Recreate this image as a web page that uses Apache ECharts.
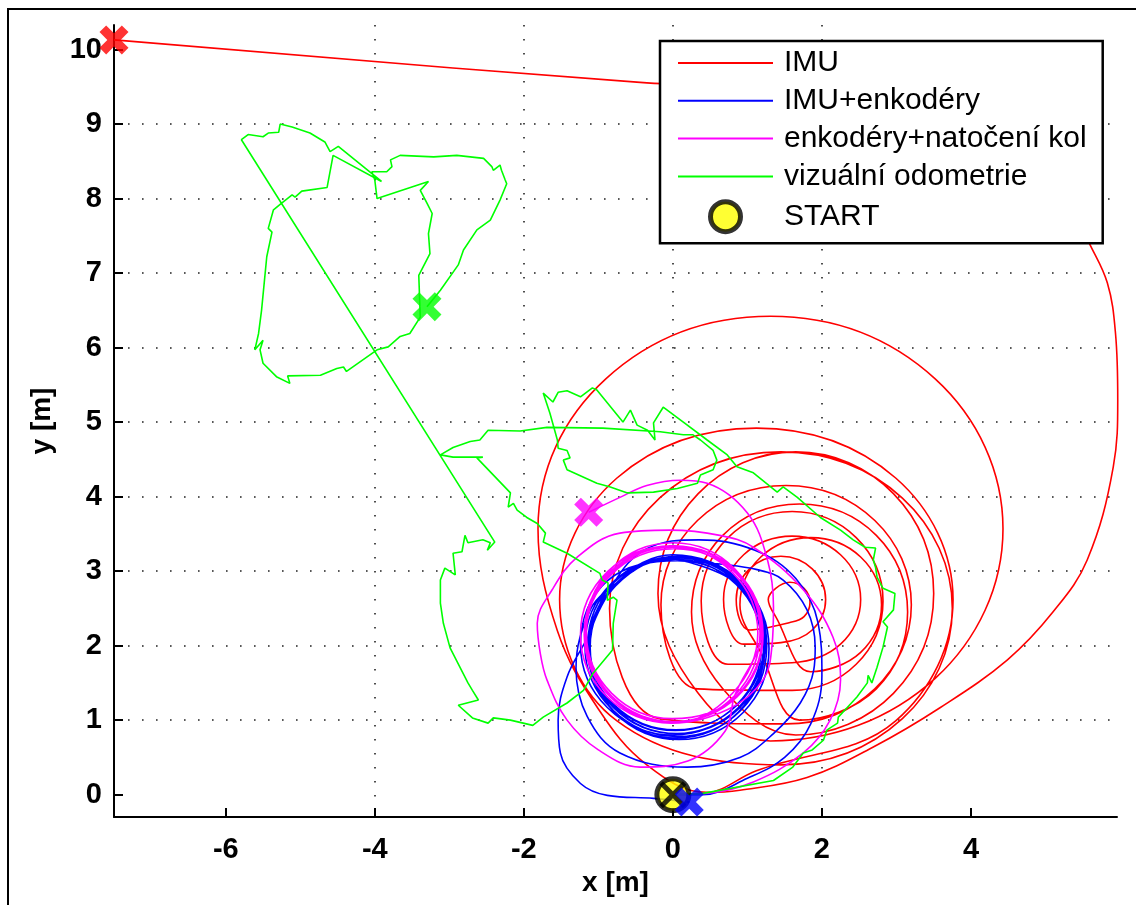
<!DOCTYPE html>
<html>
<head>
<meta charset="utf-8">
<script src="https://cdn.jsdelivr.net/npm/echarts@6/dist/echarts.min.js"></script>
<style>
  html, body { margin: 0; padding: 0; background: #fff; }
  #chart { width: 1136px; height: 905px; }
</style>
</head>
<body>
<div id="chart"></div>
<script>
// trajektorie [x, y] v metrech
const imuPath = [
  [0,0],[0.45,0.02],
  [1.12,0.32],[2.99,0.99],[3.76,2.62],[2.99,4.25],[1.12,4.92],[-0.75,4.25],[-1.52,2.62],[-0.75,0.99],
  [1.45,0.4],[3.08,1.02],[3.75,2.5],[3.08,3.98],[1.45,4.6],[-0.18,3.98],[-0.85,2.5],[-0.18,1.02],
  [1.52,0.95],[2.71,1.42],[3.2,2.55],[2.71,3.68],[1.52,4.15],[0.33,3.68],[-0.16,2.55],[0.33,1.42],
  [1.6,1.4],[2.46,1.75],[2.82,2.6],[2.46,3.45],[1.6,3.8],[0.74,3.45],[0.38,2.6],[0.74,1.75],
  [1.6,1.77],[2.25,2.02],[2.52,2.62],[2.25,3.22],[1.6,3.47],[0.95,3.22],[0.68,2.62],[0.95,2.02],
  [1.45,2.04],[1.87,2.21],[2.05,2.62],[1.87,3.03],[1.45,3.2],[1.03,3.03],[0.85,2.62],[1.03,2.21],
  [1.57,2.31],[1.76,2.39],[1.84,2.58],[1.76,2.77],[1.57,2.85],[1.38,2.77],[1.28,2.62],[1.38,2.39],
  [1.85,1.65],[2.52,1.91],[2.8,2.55],[2.52,3.19],[1.85,3.45],[1.18,3.19],[0.9,2.55],[1.18,1.91],
  [1.7,1.0],[2.73,1.42],[3.15,2.45],[2.73,3.48],[1.7,3.9],[0.67,3.48],[0.25,2.45],[0.67,1.42],
  [1.65,0.8],[2.96,1.36],[3.5,2.7],[2.96,4.04],[1.65,4.6],[0.34,4.04],[-0.2,2.7],[0.34,1.36],
  [1.31,0.72],[3.52,1.56],[4.43,3.57],[3.52,5.58],[1.31,6.42],[-0.9,5.58],[-1.81,3.57],[-1.55,2.2],[-1.0,1.15],[-0.35,0.4],
  [0.45,0.03],[0.9,0.06],[1.8,0.23],[2.69,0.64],[3.59,1.17],[4.49,1.81],[5.1,2.45],[5.56,3.15],[5.91,4.4],
  [5.97,5.3],[5.94,6.19],[5.83,6.87],[5.57,7.44],[5.2,8.25],[4.4,8.99],[3.05,9.39],[1.17,9.5],[-0.44,9.56],[-7.5,10.13]
];
const imuEncPath = [
  [0,0],[0.4,0.0],[1.0,0.22],[1.5,0.5],[1.85,0.95],[2.0,1.6],[1.95,2.3],[1.65,2.9],[1.1,3.28],[0.35,3.42],[-0.35,3.3],
  [-0.80,2.83],[-1.15,2.00],[-0.80,1.17],[0.04,0.82],[0.88,1.17],[1.23,2.00],[0.88,2.83],[0.04,3.18],
  [-0.77,2.80],[-1.11,1.98],[-0.77,1.16],[0.06,0.82],[0.89,1.16],[1.23,1.98],[0.89,2.80],[0.06,3.14],
  [-0.88,2.87],[-1.24,2.02],[-0.88,1.17],[0.00,0.80],[0.88,1.17],[1.24,2.02],[0.88,2.87],[0.00,3.22],
  [-0.78,2.81],[-1.13,1.96],[-0.78,1.11],[0.05,0.76],[0.88,1.11],[1.23,1.96],[0.88,2.81],[0.05,3.16],
  [0.6,3.1],[1.13,3.02],[1.48,2.88],[1.80,2.48],[1.91,1.98],[1.89,1.67],[1.71,1.23],[1.35,0.82],[0.9,0.5],
  [0.19,0.37],[-0.71,0.56],[-1.15,1.05],[-1.3,1.7],[-1.1,2.5],
  [-0.79,2.82],[-1.13,2.01],[-0.79,1.20],[0.03,0.86],[0.85,1.20],[1.19,2.01],[0.85,2.82],[0.03,3.16],
  [-0.78,2.82],[-1.13,1.96],[-0.78,1.10],[0.08,0.74],[0.94,1.10],[1.29,1.96],[0.94,2.82],[0.08,3.18],
  [-0.79,2.85],[-1.14,2.03],[-0.79,1.21],[0.04,0.87],[0.87,1.21],[1.22,2.03],[0.87,2.85],[0.04,3.19],
  [-0.82,2.84],[-1.18,2.0],[-0.82,1.15],[0.06,0.78],[0.91,1.13],[1.26,2.0],[0.91,2.86],[0.06,3.2],
  [-0.79,2.85],[-1.15,2.1],[-1.42,1.58],[-1.54,1.0],[-1.51,0.56],[-1.24,0.15],[-0.88,-0.01],[-0.26,-0.05],[0.22,-0.1]
];
const wheelPath = [
  [0,0],[0.46,0.02],[1.08,0.17],[1.75,0.56],[2.11,1.0],[2.25,1.54],[2.15,2.11],[1.75,2.75],[1.08,3.32],[0.63,3.48],
  [-0.04,3.55],[-0.71,3.51],[-1.28,3.19],[-1.62,2.75],[-1.82,2.3],[-1.78,1.9],[-1.69,1.54],[-1.42,1.0],[-1.0,0.6],
  [-0.44,0.37],[0.2,0.45],[0.7,0.85],
  [0.83,1.33],[1.18,2.16],[0.83,2.99],[0.00,3.34],[-0.83,2.99],[-1.18,2.16],[-0.83,1.33],[0.00,0.98],
  [0.86,1.31],[1.21,2.15],[0.86,2.99],[0.01,3.34],[-0.84,2.99],[-1.19,2.15],[-0.84,1.31],[0.01,0.96],
  [0.80,1.36],[1.14,2.17],[0.80,2.98],[-0.01,3.32],[-0.82,2.98],[-1.16,2.17],[-0.82,1.36],[-0.01,1.02],
  [0.86,1.32],[1.21,2.14],[0.86,2.96],[0.02,3.30],[-0.82,2.96],[-1.17,2.14],[-0.82,1.32],[0.02,0.98],
  [0.83,1.33],[1.17,2.18],[0.83,3.03],[0.00,3.38],[-0.83,3.03],[-1.17,2.18],[-0.83,1.33],[0.00,0.98],
  [0.84,1.31],[1.20,2.15],[0.84,2.99],[-0.02,3.34],[-0.88,2.99],[-1.24,2.15],[-0.88,1.31],[-0.02,0.96],
  [0.75,1.15],[1.21,1.54],[1.33,2.0],[1.35,2.52],[1.27,3.15],[1.0,3.78],[0.46,4.18],[0.1,4.22],[-0.35,4.15],
  [-0.71,3.99],[-1.13,3.79]
];
const visualPath = [
  [0,0],[0.37,0.01],[1.35,0.19],[1.61,0.37],[1.75,0.56],[1.87,0.60],[2.02,0.73],[2.07,0.87],[2.21,0.96],[2.22,1.04],
  [2.34,1.17],[2.47,1.31],[2.61,1.50],[2.62,1.60],[2.67,1.50],[2.74,1.71],[2.82,1.98],[2.88,2.25],[2.82,2.32],[2.96,2.48],
  [2.98,2.70],[2.82,2.77],[2.74,2.92],[2.72,3.05],[2.69,3.15],[2.72,3.31],[2.58,3.32],[2.42,3.42],[2.25,3.55],[1.98,3.72],
  [1.67,3.99],[1.48,4.13],[1.40,4.06],[1.08,4.32],[0.86,4.40],[0.73,4.56],[0.46,4.76],[0.14,5.00],[-0.13,5.20],[-0.26,4.99],
  [-0.24,4.76],[-0.34,4.89],[-0.48,4.96],[-0.57,5.16],[-0.67,5.00],[-1.02,5.43],[-1.08,5.46],[-1.24,5.34],[-1.42,5.42],[-1.54,5.40],
  [-1.61,5.27],[-1.74,5.39],[-1.65,5.12],[-1.55,4.76],[-1.54,4.65],[-1.42,4.62],[-1.38,4.52],[-1.47,4.49],[-1.42,4.36],[-1.02,4.18],
  [-0.84,4.13],[-0.61,4.05],[-0.26,4.06],[0.06,4.11],[0.33,4.18],[0.37,4.29],[0.54,4.36],[0.59,4.49],[0.54,4.62],[0.37,4.76],
  [0.27,4.83],[0.14,4.83],[-0.17,4.87],[-0.94,4.92],[-1.69,4.93],[-2.05,4.88],[-2.48,4.89],[-2.59,4.76],[-2.72,4.74],[-2.95,4.66],
  [-3.12,4.56],[-2.95,4.53],[-2.55,4.53],[-2.63,4.52],[-2.18,4.05],[-2.21,3.86],[-2.14,3.91],[-2.09,3.82],[-1.96,3.72],[-1.82,3.64],
  [-1.71,3.51],[-1.74,3.39],[-1.42,3.24],[-0.98,2.97],[-0.95,2.88],[-0.87,2.84],[-0.88,2.61],[-0.80,2.65],[-0.75,2.61],[-0.80,2.30],
  [-0.81,1.94],[-1.07,1.63],[-1.20,1.40],[-1.42,1.23],[-1.74,1.04],[-1.88,0.93],[-2.18,1.00],[-2.41,1.03],[-2.48,0.96],[-2.69,1.03],
  [-2.88,1.20],[-2.61,1.27],[-2.69,1.40],[-2.75,1.50],[-2.99,1.97],[-3.08,2.30],[-3.12,2.57],[-3.12,2.88],[-3.06,3.04],[-2.92,2.95],
  [-2.95,3.24],[-2.83,3.26],[-2.79,3.48],[-2.75,3.38],[-2.55,3.42],[-2.45,3.38],[-2.49,3.28],[-2.39,3.39],
  [-5.79,8.79],[-5.70,8.86],[-5.50,8.83],[-5.43,8.88],[-5.29,8.89],[-5.27,9.00],[-5.11,8.96],[-4.87,8.88],[-4.67,8.76],[-4.60,8.63],
  [-4.49,8.70],[-3.91,8.23],[-4.56,8.58],[-4.64,8.15],[-4.98,8.10],[-5.07,8.02],[-5.11,8.05],[-5.25,7.94],[-5.36,7.85],[-5.43,7.60],
  [-5.38,7.55],[-5.45,7.22],[-5.52,6.50],[-5.56,6.19],[-5.61,5.97],[-5.50,6.10],[-5.54,5.97],[-5.50,5.79],[-5.32,5.61],[-5.14,5.52],
  [-5.17,5.62],[-4.73,5.63],[-4.51,5.72],[-4.42,5.74],[-4.38,5.68],[-3.97,5.97],[-3.82,6.01],[-3.66,6.15],[-3.53,6.19],[-3.39,6.41],
  [-3.41,6.97],[-3.26,7.26],[-3.28,7.53],[-3.23,7.80],[-3.30,7.94],[-3.39,8.11],[-3.28,8.23],[-3.97,8.00],[-4.00,8.25],[-4.04,8.36],
  [-3.84,8.36],[-3.77,8.43],[-3.79,8.52],[-3.66,8.58],[-3.21,8.56],[-2.90,8.58],[-2.54,8.54],[-2.43,8.43],[-2.41,8.38],[-2.32,8.45],
  [-2.30,8.38],[-2.25,8.25],[-2.23,8.20],[-2.32,7.98],[-2.45,7.71],[-2.63,7.58],[-2.81,7.31],[-2.88,7.11],[-3.12,6.77],[-3.30,6.55]
];
// start a koncove body
const startPoint = [[0, 0]];
const imuEnd = [[-7.5, 10.13]];
const imuEncEnd = [[0.22, -0.1]];
const wheelEnd = [[-1.13, 3.79]];
const visualEnd = [[-3.3, 6.55]];

const xTicks = [-6, -4, -2, 0, 2, 4];
const yTicks = [0, 1, 2, 3, 4, 5, 6, 7, 8, 9, 10];

const names = ['IMU', 'IMU+enkodéry', 'enkodéry+natočení kol', 'vizuální odometrie', 'START'];
const colors = ['#ff0000', '#0000ff', '#ff00ff', '#00ff00'];

const FONT = '"Liberation Sans", Arial, Helvetica, sans-serif';
const crossPath = 'path://M0,2.3L2.3,0L5,2.7L7.7,0L10,2.3L7.3,5L10,7.7L7.7,10L5,7.3L2.3,10L0,7.7L2.7,5Z';
const thinCross = 'path://M0,1.3L1.3,0L5,3.7L8.7,0L10,1.3L6.3,5L10,8.7L8.7,10L5,6.3L1.3,10L0,8.7L3.7,5Z';

const gridLine = { color: '#222', width: 1.6, type: [1.6, 12.4] };

const lineSeries = (name, data, color, smooth) => ({
  name: name,
  type: 'line',
  data: data,
  symbol: 'none',
  smooth: smooth,
  lineStyle: { color: color, width: 1.6 },
  itemStyle: { color: color },
  z: 2
});

const endSeries = (data, color) => ({
  type: 'scatter',
  data: data,
  symbol: crossPath,
  symbolSize: 29,
  itemStyle: { color: color },
  clip: false,
  z: 5
});

// legenda: u car schovat kolecko
const lineItem = (name) => ({ name: name, itemStyle: { opacity: 0 } });

const chart = echarts.init(document.getElementById('chart'));
chart.setOption({
  animation: false,
  backgroundColor: '#fff',
  grid: { left: 114, right: 19, top: 25, bottom: 88, containLabel: false },
  graphic: [{
    type: 'rect', silent: true, z: 100,
    shape: { x: 8, y: 9, width: 1200, height: 1000 },
    style: { fill: 'none', stroke: '#000', lineWidth: 2 }
  }],
  legend: {
    orient: 'vertical',
    left: 660, top: 41,
    backgroundColor: '#fff', borderColor: '#000', borderWidth: 2.5, borderRadius: 0,
    padding: [7, 16, 9, 17],
    itemWidth: 95, itemHeight: 30, itemGap: 7.8,
    lineStyle: { width: 2 },
    textStyle: { fontSize: 30, color: '#000', fontFamily: FONT, padding: [0, 0, 0, 6] },
    data: [
      lineItem(names[0]), lineItem(names[1]), lineItem(names[2]), lineItem(names[3]),
      { name: 'START', icon: 'circle', itemStyle: { color: '#ffff00', borderColor: '#000', borderWidth: 5 } }
    ]
  },
  xAxis: {
    type: 'value', min: -7.5, max: 5.96, minInterval: 2, maxInterval: 2,
    name: 'x [m]', nameLocation: 'middle', nameGap: 50,
    nameTextStyle: { fontSize: 28, fontWeight: 'bold', color: '#000', fontFamily: FONT },
    axisLine: { onZero: false, lineStyle: { color: '#000', width: 2 } },
    axisTick: { inside: true, length: 9, customValues: xTicks, lineStyle: { color: '#000', width: 2 } },
    axisLabel: { customValues: xTicks, fontSize: 29, fontWeight: 'bold', color: '#000', fontFamily: FONT, margin: 18 },
    splitLine: { show: true, showMinLine: false, showMaxLine: false, lineStyle: gridLine }
  },
  yAxis: {
    type: 'value', min: -0.3, max: 10.33, minInterval: 1, maxInterval: 1,
    name: 'y [m]', nameLocation: 'middle', nameGap: 58,
    nameTextStyle: { fontSize: 28, fontWeight: 'bold', color: '#000', fontFamily: FONT },
    axisLine: { onZero: false, lineStyle: { color: '#000', width: 2 } },
    axisTick: { inside: true, length: 9, customValues: yTicks, lineStyle: { color: '#000', width: 2 } },
    axisLabel: { customValues: yTicks, fontSize: 29, fontWeight: 'bold', color: '#000', fontFamily: FONT, margin: 12 },
    splitLine: { show: true, showMinLine: false, showMaxLine: false, lineStyle: gridLine }
  },
  series: [
    lineSeries(names[0], imuPath, colors[0], 0.38),
    lineSeries(names[1], imuEncPath, colors[1], 0.38),
    lineSeries(names[2], wheelPath, colors[2], 0.38),
    lineSeries(names[3], visualPath, colors[3], false),
    {
      name: 'START', type: 'scatter', data: startPoint,
      symbol: 'circle', symbolSize: 32,
      itemStyle: { color: '#ffff00', borderColor: '#000', borderWidth: 5 },
      z: 4
    },
    {
      type: 'scatter', data: startPoint, symbol: thinCross, symbolSize: 27,
      itemStyle: { color: '#000' }, z: 4
    },
    endSeries(imuEnd, colors[0]),
    endSeries(wheelEnd, colors[2]),
    endSeries(visualEnd, colors[3]),
    endSeries(imuEncEnd, colors[1])
  ]
});
</script>
</body>
</html>
